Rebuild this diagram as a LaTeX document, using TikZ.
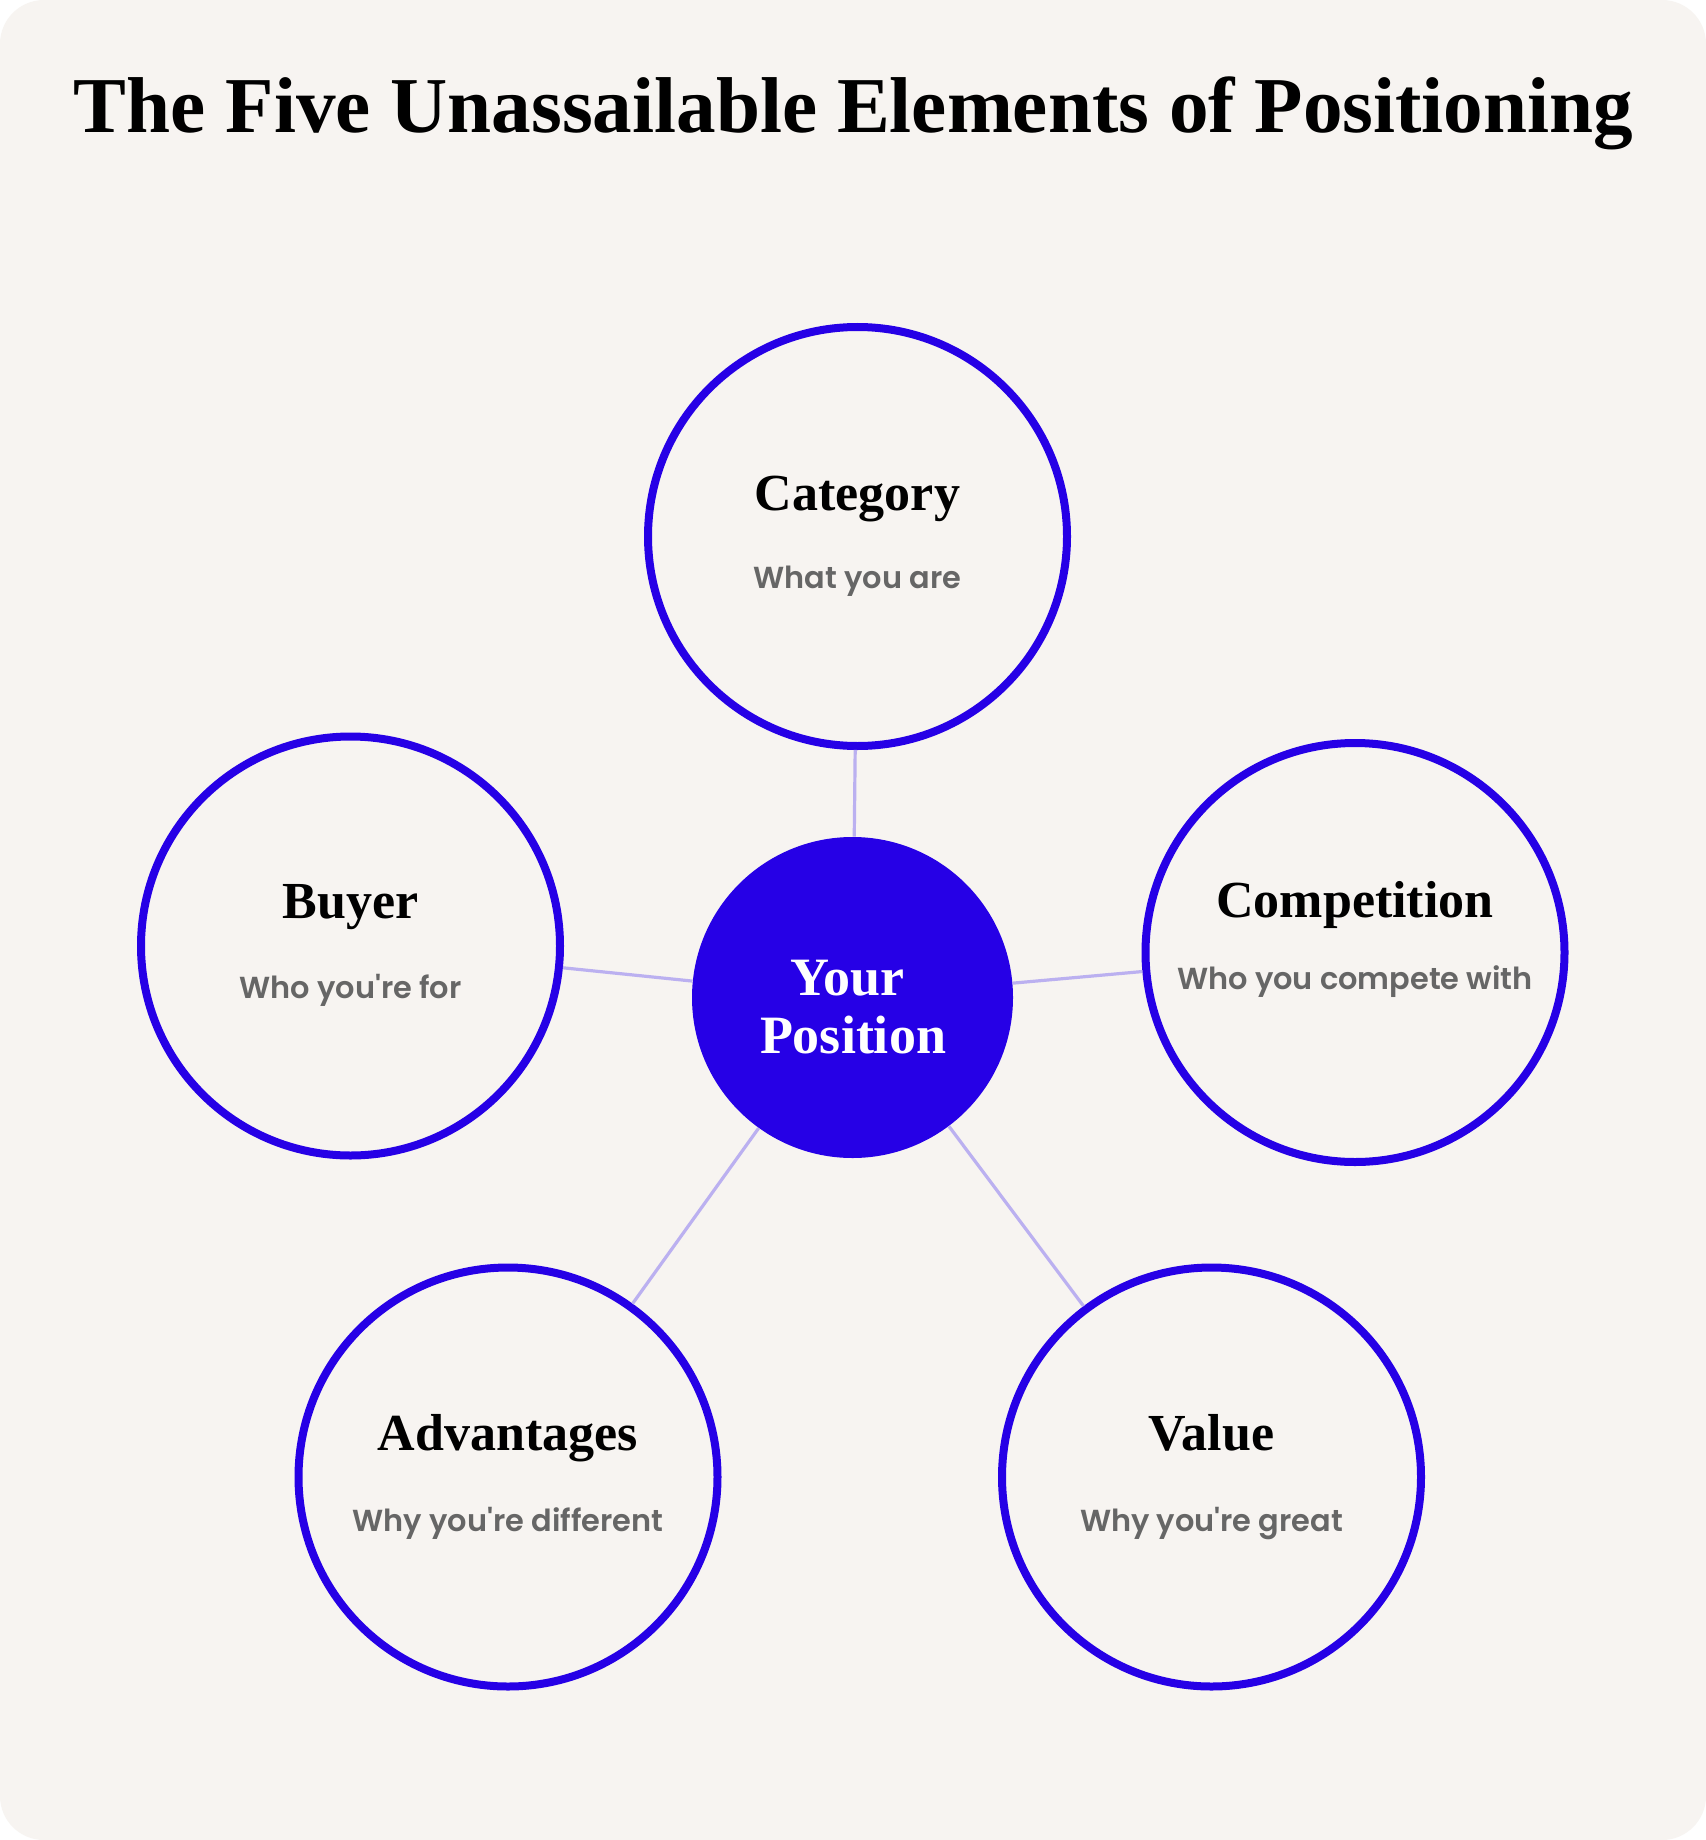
\documentclass[tikz,border=0pt]{standalone}
\usepackage{fontspec}
\setmainfont{Liberation Serif}
\newfontfamily\subf{Poppins}[UprightFont={* SemiBold}]
\definecolor{bgc}{RGB}{247,244,241}
\definecolor{ink}{RGB}{38,0,230}
\definecolor{linkc}{RGB}{187,176,240}
\definecolor{subc}{RGB}{102,102,102}
\tikzset{
  outercirc/.style={circle, draw=ink, line width=4pt, minimum size=209.5pt, inner sep=0pt},
  centercirc/.style={circle, fill=ink, minimum size=160.5pt, inner sep=0pt},
  link/.style={draw=linkc, line width=1.6pt},
  headtxt/.style={anchor=base, inner sep=0pt, font=\bfseries\fontsize{26pt}{30pt}\selectfont, text=black},
  subtxt/.style={anchor=base, inner sep=0pt, font=\subf\fontsize{15.2pt}{18pt}\selectfont, text=subc},
  postxt/.style={anchor=base, inner sep=0pt, font=\bfseries\fontsize{27pt}{30pt}\selectfont, text=white},
}
\begin{document}
\begin{tikzpicture}[x=0.5pt,y=-0.5pt]
\useasboundingbox (0,0) rectangle (1706,1840);
\fill[white] (0,0) rectangle (1706,1840);
\fill[bgc, rounded corners=22pt] (0,0) rectangle (1706,1840);
% title
\node[anchor=base, inner sep=0pt] (title) at (853.5,133)
  {\resizebox{779.5pt}{!}{\bfseries The Five Unassailable Elements of Positioning}};
% circles
\node[centercirc] (pos) at (852.5,997.5) {};
\node[outercirc] (cat) at (857.5,536.5) {};
\node[outercirc] (buy) at (350.5,946) {};
\node[outercirc] (com) at (1355,952.5) {};
\node[outercirc] (adv) at (508,1477) {};
\node[outercirc] (val) at (1211.5,1477) {};
% connectors
\draw[link] (pos) -- (cat);
\draw[link] (pos) -- (buy);
\draw[link] (pos) -- (com);
\draw[link] (pos) -- (adv);
\draw[link] (pos) -- (val);
% center text
\node[postxt] (pos1) at (847,995) {Your};
\node[postxt] (pos2) at (853,1053) {Position};
% labels
\node[headtxt] (catt) at (857.5,510) {Category};
\node[subtxt] (cats) at (857.5,588) {What you are};
\node[headtxt] (buyt) at (350.5,918) {Buyer};
\node[subtxt] (buys) at (350.5,998) {Who you're for};
\node[headtxt] (comt) at (1355,917) {Competition};
\node[subtxt] (coms) at (1355,989) {Who you compete with};
\node[headtxt] (advt) at (508,1450) {Advantages};
\node[subtxt] (advs) at (508,1531) {Why you're different};
\node[headtxt] (valt) at (1211.5,1450) {Value};
\node[subtxt] (vals) at (1211.5,1531) {Why you're great};
\end{tikzpicture}
\end{document}
